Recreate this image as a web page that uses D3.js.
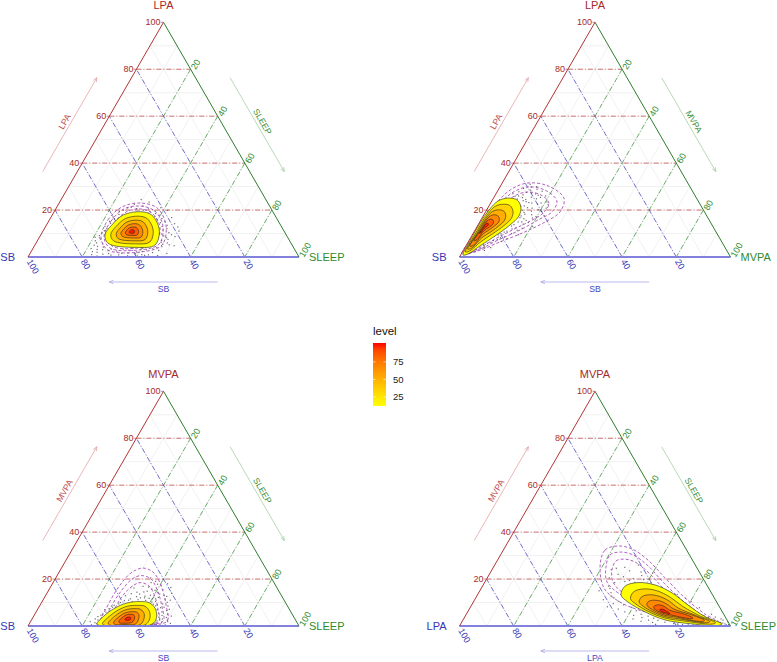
<!DOCTYPE html>
<html><head><meta charset="utf-8">
<script src="https://cdn.jsdelivr.net/npm/d3@7"></script>
<style>body{margin:0;background:#fff;} svg text{font-family:"Liberation Sans",Arial,Helvetica,sans-serif;}</style>
</head><body>
<svg id="chart" width="777" height="662"></svg>
<script>
// ---------------- DATA ----------------
const topAxis   = ["LPA","LPA","MVPA","MVPA"];
const leftAxis  = ["SB","SB","SB","LPA"];
const rightAxis = ["SLEEP","MVPA","SLEEP","SLEEP"];
const axisTicks  = [20,40,60,80,100];
const minorTicks = [10,20,30,40,50,60,70,80,90];
const legendTicks = [25,50,75];
const levelDomain = [12,102];
const ringLevels = [12,34,52,68,84,100];

// density contour rings, points as [top %, right %]
const density1 = [
 [[9.4,23.7],[13.6,24.1],[17.9,26.2],[19.3,31.7],[17.9,36.7],[11.5,42.7],[5.1,44.3],[4.1,38.0],[5.8,26.7]],
 [[9.7,25.7],[13.0,26.0],[16.3,27.7],[17.4,32.0],[16.3,35.9],[11.4,40.5],[6.4,41.8],[5.6,36.9],[6.9,28.1]],
 [[10.0,27.6],[12.4,27.8],[14.9,29.0],[15.7,32.2],[14.9,35.1],[11.2,38.6],[7.5,39.5],[6.9,35.9],[7.9,29.3]],
 [[10.2,29.2],[11.9,29.4],[13.6,30.2],[14.2,32.4],[13.6,34.4],[11.1,36.8],[8.5,37.5],[8.1,34.9],[8.8,30.4]],
 [[10.5,30.7],[11.5,30.8],[12.5,31.3],[12.8,32.6],[12.5,33.8],[11.0,35.3],[9.4,35.6],[9.2,34.1],[9.6,31.4]],
 [[10.7,32.0],[11.1,32.0],[11.5,32.2],[11.7,32.8],[11.5,33.3],[10.9,33.9],[10.2,34.0],[10.1,33.4],[10.3,32.3]]
];
const density2 = [
 [[0.85,0.87],[7.7,0.4],[14.5,0.3],[20.0,0.9],[23.9,2.3],[25.1,5.4],[24.3,9.1],[21.3,12.0],[17.5,13.2],[13.6,11.8],[8.9,8.6],[4.7,5.2],[1.3,2.5]],
 [[2.2,1.1],[8.9,0.9],[14.2,0.9],[18.5,1.3],[21.6,2.4],[22.5,4.8],[21.9,7.7],[19.5,10.0],[16.6,10.9],[13.5,9.8],[9.9,7.3],[6.6,4.7],[2.6,2.5]],
 [[3.4,1.3],[10.0,1.4],[14.0,1.4],[17.1,1.7],[19.4,2.5],[20.1,4.3],[19.6,6.5],[17.9,8.1],[15.7,8.8],[13.4,8.0],[10.7,6.2],[8.3,4.2],[3.8,2.6]],
 [[4.6,1.5],[11.0,1.8],[13.7,1.8],[15.9,2.0],[17.5,2.6],[18.0,3.8],[17.6,5.3],[16.4,6.5],[14.9,7.0],[13.4,6.4],[11.5,5.1],[9.8,3.8],[4.9,2.6]],
 [[7.0,1.8],[11.9,2.2],[13.5,2.2],[14.8,2.3],[15.8,2.7],[16.1,3.4],[15.9,4.3],[15.1,5.0],[14.2,5.3],[13.3,5.0],[12.2,4.2],[11.2,3.4],[7.3,2.7]],
 [[10.1,2.3],[12.7,2.6],[13.3,2.55],[13.9,2.6],[14.3,2.75],[14.4,3.1],[14.3,3.4],[14.0,3.7],[13.6,3.8],[13.2,3.7],[12.8,3.4],[12.3,3.0],[10.2,2.7]]
];
const density3 = [
 [[0.85,25.0],[4.7,26.1],[7.7,28.3],[9.8,31.6],[10.4,36.1],[9.8,40.1],[6.8,43.8],[2.6,45.9],[0.43,44.8],[0.2,33.8],[0.2,26.5]],
 [[1.0,27.0],[4.4,28.1],[6.7,29.8],[8.4,32.4],[8.8,35.9],[8.4,39.0],[6.0,41.9],[2.5,43.5],[0.4,42.8],[0.3,34.0],[0.3,28.0]],
 [[1.2,29.0],[4.1,29.9],[5.9,31.2],[7.1,33.1],[7.4,35.7],[7.1,38.0],[5.3,40.2],[2.4,41.4],[0.5,41.0],[0.4,35.0],[0.4,30.0]],
 [[1.6,30.8],[3.9,31.6],[5.1,32.4],[5.9,33.8],[6.1,35.6],[5.9,37.2],[4.7,38.6],[2.5,39.4],[0.8,39.2],[0.6,35.2],[0.7,31.6]],
 [[2.2,32.5],[3.6,33.0],[4.4,33.5],[4.9,34.3],[5.0,35.4],[4.9,36.4],[4.1,37.3],[2.8,37.8],[1.5,37.5],[1.2,35.2],[1.4,33.0]],
 [[2.6,34.5],[3.0,34.3],[3.5,34.5],[3.8,35.0],[3.8,35.6],[3.6,36.1],[3.1,36.4],[2.6,36.3],[2.4,35.7],[2.4,35.0]]
];
const density4 = [
 [[13.2,53.0],[17.0,52.6],[18.5,56.6],[17.5,63.4],[14.1,71.4],[8.9,79.9],[4.0,88.6],[0.85,96.4],[0.2,95.3],[1.07,83.8],[2.6,74.5],[6.0,65.5],[10.2,57.1]],
 [[11.6,57.3],[14.6,57.0],[15.8,60.1],[15.0,65.4],[12.3,71.6],[8.3,78.3],[4.2,86.8],[1.4,93.8],[0.8,92.8],[2.2,81.3],[3.4,74.1],[6.0,67.0],[9.3,60.5]],
 [[10.2,61.2],[12.4,61.0],[13.3,63.3],[12.7,67.2],[10.7,71.9],[7.7,76.8],[4.4,85.2],[1.9,91.4],[1.4,90.5],[3.1,79.1],[4.0,73.7],[6.0,68.4],[8.4,63.6]],
 [[8.9,64.7],[10.4,64.5],[11.0,66.1],[10.6,68.9],[9.2,72.1],[7.2,75.5],[4.6,83.8],[2.4,89.2],[1.9,88.5],[4.0,77.0],[4.6,73.3],[6.0,69.7],[7.7,66.3]],
 [[7.7,67.8],[8.6,67.7],[9.0,68.7],[8.8,70.3],[7.9,72.2],[6.7,74.3],[5.0,80.6],[3.4,84.5],[3.1,83.9],[4.8,75.2],[5.2,73.0],[6.0,70.8],[7.0,68.8]],
 [[6.7,70.5],[7.1,70.5],[7.2,71.0],[7.1,71.6],[6.8,72.4],[6.3,73.2],[5.7,74.5],[5.3,75.0],[5.1,74.6],[5.5,73.6],[5.7,72.7],[6.0,71.8],[6.4,71.0]]
];

// confidence rings (dashed)
const conf1 = [
 [[8.1,22.9],[15.8,21.6],[21.3,24.0],[23.0,29.8],[20.9,37.2],[13.6,44.1],[5.1,46.9],[2.1,40.3],[3.0,28.0]],
 [[8.5,23.8],[15.3,23.0],[20.5,25.2],[21.7,30.5],[19.6,37.0],[13.2,43.2],[5.5,45.6],[3.0,39.4],[3.8,28.4]],
 [[8.9,25.1],[14.5,24.5],[19.2,26.6],[20.5,31.1],[18.7,36.4],[12.8,42.3],[6.4,44.0],[3.8,38.7],[4.7,28.6]]
];
const conf2 = [
 [[1.3,0.3],[11.5,1.1],[22.2,2.0],[28.5,4.4],[31.5,9.2],[30.3,17.5],[25.1,26.0],[19.2,27.5],[14.9,24.1],[10.7,18.8],[6.4,11.7],[2.6,5.5]],
 [[1.3,0.7],[11.1,2.0],[21.3,3.2],[27.3,5.7],[29.8,10.0],[28.5,17.3],[23.9,24.0],[19.2,24.5],[15.8,21.1],[11.5,16.6],[7.2,10.6],[3.0,5.3]],
 [[1.3,1.0],[10.7,3.0],[20.0,4.6],[25.6,6.9],[27.7,11.1],[26.4,16.9],[23.0,21.5],[18.7,21.5],[15.3,18.4],[11.9,14.2],[7.7,9.3],[3.4,4.8]]
];
const conf3 = [
 [[0.85,26.1],[8.1,25.1],[16.2,25.1],[22.6,26.7],[24.7,30.1],[22.6,35.2],[16.2,41.3],[8.9,46.5],[2.1,50.3],[0.43,41.1],[0.43,31.9]],
 [[0.85,27.6],[8.1,26.6],[14.9,26.9],[20.0,28.4],[21.5,31.0],[20.0,35.4],[14.5,40.7],[8.1,45.4],[2.1,48.8],[0.64,41.0],[0.43,33.0]],
 [[0.85,29.1],[7.7,28.3],[13.6,28.6],[17.5,30.4],[18.5,32.4],[17.0,36.2],[12.4,40.7],[6.8,44.6],[2.1,47.3],[0.85,40.9],[0.64,33.6]]
];
const conf4 = [
 [[26.0,38.9],[32.4,37.5],[34.1,41.4],[32.8,47.3],[28.1,55.5],[20.5,65.6],[11.9,77.3],[5.1,88.0],[1.28,95.5],[1.28,88.1],[3.4,77.8],[6.0,65.5],[10.2,54.1],[16.2,45.2]],
 [[25.1,41.5],[30.3,40.4],[31.5,43.5],[30.3,48.9],[25.6,56.8],[18.3,66.3],[10.7,77.1],[4.7,87.1],[1.28,94.0],[1.7,87.2],[4.3,76.3],[8.5,64.2],[13.6,52.4],[18.7,45.1]],
 [[23.9,44.3],[27.7,43.9],[28.5,46.5],[27.3,51.1],[22.6,58.6],[16.2,67.0],[9.4,76.7],[4.3,85.9],[1.28,92.5],[2.1,85.9],[5.1,75.1],[9.4,64.1],[14.1,53.3],[18.7,47.3]]
];

// observed compositions (points), [top %, right %]
const dots1 = [[2.0,24.5],[1.2,27.0],[3.1,26.0],[0.8,30.2],[2.5,31.5],[1.6,33.8],[3.4,29.0],[0.5,36.5],[2.2,38.9],[1.0,41.5],[3.0,42.2],[1.9,45.0],[0.6,47.5],[2.8,46.8],[4.4,47.2],[6.2,46.0],[7.5,47.9],[9.0,45.6],[10.4,46.8],[12.1,45.2],[13.5,44.6],[15.0,43.0],[16.4,41.2],[14.2,47.0],[17.8,39.5],[19.6,37.0],[20.5,34.2],[21.8,31.5],[22.5,28.0],[20.9,26.3],[19.4,24.0],[17.0,22.9],[15.2,22.5],[13.0,21.9],[11.2,22.6],[9.1,21.8],[7.6,23.0],[6.0,22.3],[4.5,23.4],[3.6,21.5],[8.4,20.6],[23.4,33.0],[18.6,35.1],[21.0,38.5],[16.8,44.6],[12.8,48.9],[5.2,49.5],[8.7,49.9],[1.5,50.5],[0.4,25.3],[4.8,51.5],[11.0,50.2],[24.5,29.5],[19.9,41.6],[2.9,35.8],[1.4,39.0],[3.7,40.5],[0.9,44.0],[5.6,24.8],[10.2,23.6],
 [1.5,29.0],[2.7,28.2],[0.9,33.0],[1.8,36.0],[3.3,33.5],[3.9,36.9],[2.4,41.0],[0.3,39.5],[4.0,45.5],[5.5,47.0],[7.0,45.8],[8.2,47.0],[9.8,44.4],[11.5,44.0],[13.0,43.0],[14.6,41.6],[16.0,39.6],[17.2,38.2],[18.5,37.8],[19.2,35.5],[20.0,32.6],[20.6,29.8],[21.2,27.5],[19.9,25.2],[18.1,24.5],[16.2,23.8],[14.3,23.3],[12.2,23.0],[10.3,22.2],[8.1,22.4],[6.9,21.4],[5.0,21.9],[3.2,23.9],[2.3,22.6],[4.2,25.7],[1.0,23.0],[6.0,48.4],[9.5,48.2],[3.5,44.3],[0.7,42.7]];
const dots2 = [[22.0,9.8],[24.0,11.5],[26.5,10.2],[27.8,8.0],[25.5,13.8],[23.0,15.2],[21.0,14.6],[19.5,16.8],[18.2,15.0],[16.8,13.9],[15.0,15.5],[13.8,13.2],[12.5,14.6],[11.0,12.0],[9.8,10.5],[8.2,11.0],[7.0,9.0],[5.8,7.4],[4.6,6.8],[3.5,5.9],[2.2,4.6],[6.6,12.1],[10.0,14.2],[12.2,17.0],[14.7,18.1],[17.2,19.6],[20.2,18.9],[22.6,17.5],[24.8,16.0],[26.9,14.6],[28.5,12.0],[29.2,9.0],[27.0,6.2],[25.8,7.6],[23.6,12.8],[21.6,11.8],[19.9,13.3],[18.6,12.4],[16.0,12.2],[14.2,11.5],[11.8,10.2],[9.0,8.4],[28.0,16.5],[26.0,18.8],[23.5,20.5],[20.8,21.6],[30.0,13.5],[31.0,10.6],[24.7,9.0],[22.8,7.4],[13.0,20.5],[9.5,17.0],[7.8,13.6],[17.5,22.5],[4.0,9.5],[2.8,7.8],
 [20.5,10.5],[21.8,13.0],[23.2,14.0],[24.5,12.2],[25.3,10.6],[26.0,8.8],[22.9,9.5],[19.0,14.3],[17.5,14.0],[16.3,15.6],[14.9,14.2],[13.2,12.6],[12.0,13.4],[10.6,11.2],[9.4,9.6],[8.6,12.3],[7.4,10.3],[6.2,8.5],[5.2,6.2],[4.1,7.3],[3.0,4.6],[2.0,3.4],[1.6,2.8],[18.0,17.6],[20.8,16.4],[23.0,18.6],[25.4,17.2],[27.5,11.0],[28.8,14.2],[26.3,15.9],[21.3,19.8],[15.6,16.8],[11.4,15.6],[19.4,20.6],[16.6,18.6],[14.0,16.5],[22.4,21.5],[24.0,6.5],[27.2,13.0],[29.8,11.6]];
const dots3 = [[0.5,23.2],[1.4,24.0],[2.6,24.5],[3.5,25.5],[5.1,25.0],[6.3,26.8],[8.0,27.2],[9.4,28.8],[10.8,30.2],[11.6,32.0],[12.5,33.8],[11.2,35.0],[12.0,37.0],[13.1,38.6],[11.6,40.2],[10.5,41.8],[9.0,43.2],[7.8,45.0],[6.0,46.4],[4.5,47.2],[3.0,48.1],[1.6,48.5],[0.7,47.0],[2.2,46.5],[14.5,35.5],[15.8,37.8],[16.9,34.0],[13.8,31.2],[12.9,29.5],[14.2,40.8],[15.5,42.0],[13.0,43.7],[11.4,44.9],[10.1,46.3],[8.5,47.4],[17.8,38.9],[18.5,36.2],[19.8,40.0],[16.2,31.0],[9.9,34.0],[10.9,38.0],[0.4,50.5],[1.1,52.0],[2.5,50.2],[5.0,49.0],[7.1,48.6],[6.9,24.8],[4.0,23.8],[1.9,22.0],[12.2,42.0],[16.4,44.5],[14.0,46.0],[20.5,35.0],[18.0,42.5],
 [11.0,31.6],[12.0,35.5],[12.7,36.8],[11.8,38.8],[10.2,40.6],[9.3,41.6],[8.6,42.8],[7.0,44.2],[5.5,45.5],[3.8,46.4],[2.7,47.2],[1.2,46.2],[0.5,45.6],[1.0,24.9],[2.2,25.8],[3.0,23.3],[4.6,24.6],[5.9,25.8],[7.4,26.2],[8.8,27.4],[10.0,29.1],[13.6,34.4],[14.8,36.6],[15.2,39.3],[13.6,41.8],[12.6,44.9],[11.0,47.0],[9.4,45.0],[8.0,46.2],[6.6,47.8],[3.6,49.3],[1.9,50.6],[16.6,36.2],[17.4,40.4],[14.4,33.0],[10.4,33.3],[12.3,40.2],[0.3,48.6],[4.2,50.8],[19.0,37.6]];
const dots4 = [[20.5,45.0],[22.0,47.5],[24.0,44.0],[18.5,48.0],[16.0,47.5],[14.2,48.8],[12.0,51.0],[10.5,53.5],[9.0,56.0],[8.0,59.5],[6.5,62.0],[5.0,64.5],[4.2,67.5],[3.3,70.0],[2.4,72.0],[1.6,75.0],[1.0,78.5],[0.6,82.0],[0.4,86.0],[0.3,90.0],[0.5,93.5],[0.9,97.5],[1.5,95.6],[2.1,93.0],[2.8,91.5],[3.6,90.0],[4.4,88.0],[5.5,85.2],[6.8,82.0],[8.0,79.4],[9.5,77.0],[11.0,74.2],[12.6,71.8],[14.0,68.5],[15.4,66.0],[16.8,64.2],[18.4,61.5],[19.8,58.0],[20.2,54.0],[19.0,51.5],[21.5,56.5],[23.5,51.0],[25.0,48.5],[17.2,57.8],[13.5,73.6],[11.8,77.5],[10.4,80.3],[7.8,84.6],[0.2,96.0],[1.8,98.0],[0.6,99.0],[3.0,95.0],[22.6,60.0],[26.0,53.0],[15.0,44.0],[11.2,47.5],[8.2,50.5],[6.0,58.0],[3.0,62.5],[2.0,66.0],
 [0.4,80.5],[0.8,84.0],[1.2,88.5],[1.6,91.0],[2.2,89.5],[2.6,87.2],[3.2,85.5],[4.0,83.6],[4.8,81.5],[5.6,79.8],[6.5,78.2],[7.4,76.4],[8.6,74.6],[9.8,72.6],[11.2,70.2],[12.6,67.6],[13.8,65.2],[15.0,62.8],[16.2,60.5],[17.6,59.0],[18.6,55.4],[19.4,53.0],[1.0,93.0],[1.3,96.5],[0.5,98.2],[2.5,96.0],[3.8,92.5],[5.0,90.5],[0.7,72.0],[1.5,70.5],[2.5,68.5],[3.6,65.5],[4.5,62.0],[7.2,55.0],[9.5,52.0],[12.8,49.5],[17.0,46.5],[21.0,50.0],[23.0,55.5],[24.6,45.6]];

// ---------------- DRAW ----------------
const densArr = [density1,density2,density3,density4];
const confArr = [conf1,conf2,conf3,conf4];
const dotsArr = [dots1,dots2,dots3,dots4];
const layout = [[28,257],[459.5,257],[28,626],[459.5,626]];

const svg = d3.select("#chart");
svg.append("rect").attr("width",777).attr("height",662).attr("fill","#fff");
const W = 271, H = W*Math.sqrt(3)/2;
const color = d3.scaleLinear().domain(levelDomain).range(["#FFFF00","#FF0000"]).interpolate(d3.interpolateLab);

const RED_T="#A52A2A", BLUE_T="#3535B5", GREEN_T="#2E8B2E";

function drawPanel(i){
  const [x0,yb] = layout[i];
  const g = svg.append("g");
  const xs = d3.scaleLinear().domain([0,100]).range([x0,x0+W]);
  const ys = d3.scaleLinear().domain([0,100]).range([yb,yb-H]);
  const P = (T,R) => [xs(R+T/2), ys(T)];
  const seg = (a,b,stroke,w,dash) => g.append("line")
     .attr("x1",a[0]).attr("y1",a[1]).attr("x2",b[0]).attr("y2",b[1])
     .attr("stroke",stroke).attr("stroke-width",w).attr("stroke-dasharray",dash||null);

  // minor grid
  minorTicks.forEach(v=>{
    seg(P(v,0),P(v,100-v),"#e2e2e2",0.5);
    seg(P(0,100-v),P(100-v,0),"#e2e2e2",0.5);
    seg(P(100-v,v),P(0,v),"#e2e2e2",0.5);
  });
  // major grid
  const dd="5,2,1,2";
  axisTicks.filter(v=>v<100).forEach(v=>{
    seg(P(v,0),P(v,100-v),"#C04545",0.75,dd);
    seg(P(0,100-v),P(100-v,0),"#4545C5",0.75,dd);
    seg(P(100-v,v),P(0,v),"#3A963A",0.75,dd);
  });

  // points
  g.append("g").selectAll("rect").data(dotsArr[i]).join("rect")
    .attr("x",d=>P(d[0],d[1])[0]-0.6).attr("y",d=>P(d[0],d[1])[1]-0.6)
    .attr("width",1.2).attr("height",1.2).attr("fill","#4a4a4a").attr("opacity",0.8);

  const ring = d3.line().x(d=>P(d[0],d[1])[0]).y(d=>P(d[0],d[1])[1])
     .curve(d3.curveCatmullRomClosed.alpha(0.5));
  // confidence
  g.append("g").selectAll("path").data(confArr[i]).join("path")
    .attr("d",ring).attr("fill","none").attr("stroke","#A545B5")
    .attr("stroke-width",0.85).attr("stroke-dasharray","3,2");
  // density
  g.append("g").selectAll("path").data(densArr[i]).join("path")
    .attr("d",ring).attr("fill",(d,j)=>color(ringLevels[j]))
    .attr("stroke","#222").attr("stroke-width",0.6);

  // edges
  seg(P(0,0),P(0,100),"#8282DE",2);
  seg(P(0,0),P(100,0),"#B23434",1);
  seg(P(100,0),P(0,100),"#2E7D2E",1);

  // ticks + labels
  axisTicks.forEach(v=>{
    const a = P(v,0);
    seg(a,[a[0]-2.5,a[1]],"#B23434",0.6);
    g.append("text").attr("x",a[0]-3).attr("y",a[1]).attr("text-anchor","end")
      .attr("dominant-baseline","central").attr("font-size",9).attr("fill",RED_T).text(v);
    const b = P(100-v,v);
    g.append("text").attr("transform",`translate(${b[0]+2.5},${b[1]-0.5}) rotate(-60)`)
      .attr("text-anchor","start").attr("dominant-baseline","central")
      .attr("font-size",9).attr("fill",GREEN_T).text(v);
    const c = P(0,100-v);
    g.append("text").attr("transform",`translate(${c[0]+1},${c[1]+3}) rotate(60)`)
      .attr("text-anchor","start").attr("dominant-baseline","central")
      .attr("font-size",9).attr("fill",BLUE_T).text(v);
  });

  // arrows
  const off=(p,n,d)=>[p[0]+n[0]*d,p[1]+n[1]*d];
  const nL=[-0.866,-0.5], nR=[0.866,-0.5];
  function arrow(a,b,col){
    seg(a,b,col,0.8);
    const ang=Math.atan2(b[1]-a[1],b[0]-a[0]);
    [ang+Math.PI-0.4, ang+Math.PI+0.4].forEach(t=>seg(b,[b[0]+4.5*Math.cos(t),b[1]+4.5*Math.sin(t)],col,0.8));
  }
  arrow(off(P(30,0),nL,30), off(P(70,0),nL,30), "#E5A3A3");
  arrow(off(P(70,30),nR,30), off(P(30,70),nR,30), "#A3D0A3");
  arrow(off(P(0,70),[0,1],25), off(P(0,30),[0,1],25), "#A8A8EA");
  const tl = off(P(50,0),nL,36);
  g.append("text").attr("transform",`translate(${tl[0]},${tl[1]}) rotate(-60)`)
    .attr("text-anchor","middle").attr("dominant-baseline","central").attr("font-size",8.7)
    .attr("fill","#C25252").text(topAxis[i]);
  const rl = off(P(50,50),nR,36);
  g.append("text").attr("transform",`translate(${rl[0]},${rl[1]}) rotate(60)`)
    .attr("text-anchor","middle").attr("dominant-baseline","central").attr("font-size",8.7)
    .attr("fill","#3E913E").text(rightAxis[i]);
  const bl = off(P(0,50),[0,1],31.5);
  g.append("text").attr("x",bl[0]).attr("y",bl[1])
    .attr("text-anchor","middle").attr("dominant-baseline","central").attr("font-size",8.7)
    .attr("fill","#4646C2").text(leftAxis[i]);

  // corner titles
  const ap = P(100,0);
  g.append("text").attr("x",ap[0]).attr("y",ap[1]-13).attr("text-anchor","middle")
    .attr("font-size",11).attr("fill",RED_T).text(topAxis[i]);
  const lc = P(0,0);
  g.append("text").attr("x",lc[0]-13).attr("y",lc[1]).attr("text-anchor","end")
    .attr("dominant-baseline","central").attr("font-size",11).attr("fill",BLUE_T).text(leftAxis[i]);
  const rc = P(0,100);
  g.append("text").attr("x",rc[0]+10).attr("y",rc[1]).attr("text-anchor","start")
    .attr("dominant-baseline","central").attr("font-size",11).attr("fill",GREEN_T).text(rightAxis[i]);
}
[0,1,2,3].forEach(drawPanel);

// legend
const lg = svg.append("g");
const grad = svg.append("defs").append("linearGradient").attr("id","lvl")
  .attr("x1",0).attr("y1",1).attr("x2",0).attr("y2",0);
d3.range(0,1.0001,0.1).forEach(t=>grad.append("stop").attr("offset",t)
  .attr("stop-color",color(levelDomain[0]+t*(levelDomain[1]-levelDomain[0]))));
const ly = d3.scaleLinear().domain(levelDomain).range([406,343]);
lg.append("rect").attr("x",373).attr("y",ly(levelDomain[1])).attr("width",13)
  .attr("height",ly(levelDomain[0])-ly(levelDomain[1])).attr("fill","url(#lvl)");
legendTicks.forEach(v=>{
  lg.append("line").attr("x1",373).attr("x2",375.6).attr("y1",ly(v)).attr("y2",ly(v)).attr("stroke","#fff").attr("stroke-width",0.6);
  lg.append("line").attr("x1",383.4).attr("x2",386).attr("y1",ly(v)).attr("y2",ly(v)).attr("stroke","#fff").attr("stroke-width",0.6);
  lg.append("text").attr("x",393).attr("y",ly(v)).attr("dominant-baseline","central")
    .attr("font-size",9.5).attr("fill","#222").text(v);
});
lg.append("text").attr("x",373).attr("y",335).attr("font-size",11.5).attr("fill","#111").text("level");
</script>
</body></html>
